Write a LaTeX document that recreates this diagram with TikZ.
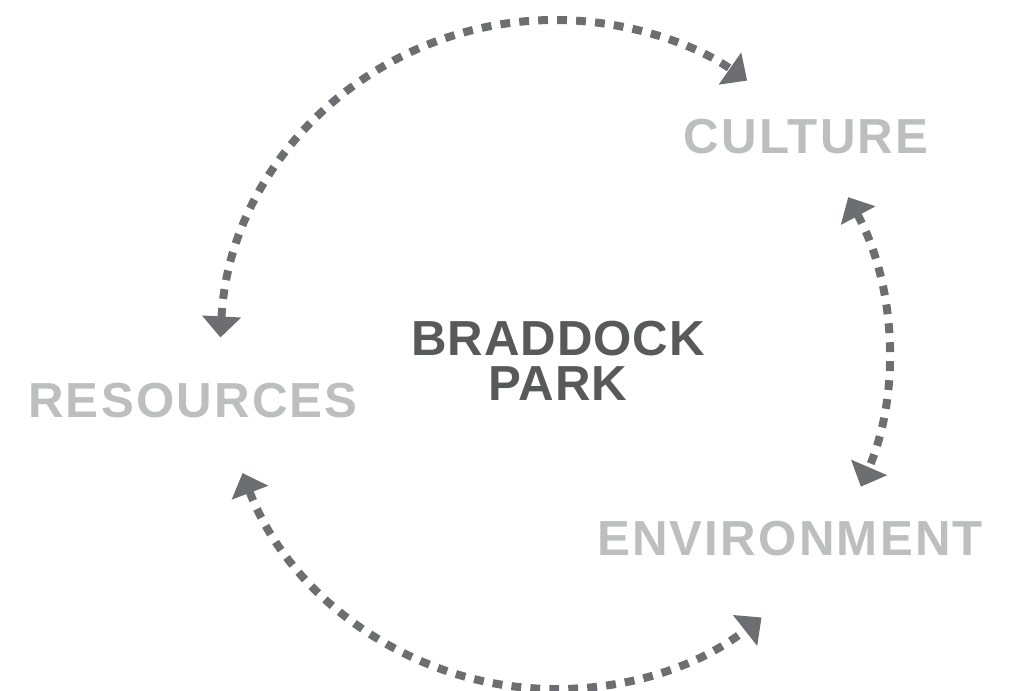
\documentclass[tikz,border=0pt]{standalone}
\usepackage{fontspec}
\setmainfont{Liberation Sans}
\newfontfamily\hubface{Liberation Sans}[LetterSpace=2]
\newfontfamily\themeface{Liberation Sans}[LetterSpace=4.5]
\usetikzlibrary{arrows.meta}
\definecolor{arcgray}{HTML}{6D6E71}
\definecolor{hubgray}{HTML}{58595B}
\definecolor{lblgray}{HTML}{BCBEC0}
\begin{document}
\begin{tikzpicture}[
		x=0.025cm, y=-0.025cm,
		every node/.style={inner sep=0pt, anchor=base},
		hub/.style={text=hubgray, font=\hubface\fontsize{35}{32}\selectfont\bfseries},
		theme/.style={text=lblgray, font=\themeface\fontsize{35}{32}\selectfont\bfseries},
		loop arrow/.style={{Triangle[length=0.525cm,width=0.95cm]}-{Triangle[length=0.525cm,width=0.95cm]}, draw=arcgray, fill=none, line width=0.2cm, dash pattern=on 7pt off 6.5pt},
	]
	\useasboundingbox (0,0) rectangle (1015,691);
	\coordinate (hub) at (555,355);
	\node[hub] (braddock) at (558,355) {BRADDOCK};
	\node[hub] (park) at (558,400) {PARK};
	\node[theme] (culture) at (806,153) {CULTURE};
	\node[theme] (resources) at (193,417) {RESOURCES};
	\node[theme] (environment) at (790,555) {ENVIRONMENT};
	\draw[loop arrow] ([shift={(183:335)}]hub) arc[start angle=183, end angle=305, radius=335];
	\draw[loop arrow] ([shift={(-28.3:333)}]hub) arc[start angle=-28.3, end angle=23.3, radius=333];
	\draw[loop arrow] ([shift={(159.3:334)}]hub) arc[start angle=159.3, end angle=51.8, radius=334];
\end{tikzpicture}
\end{document}
